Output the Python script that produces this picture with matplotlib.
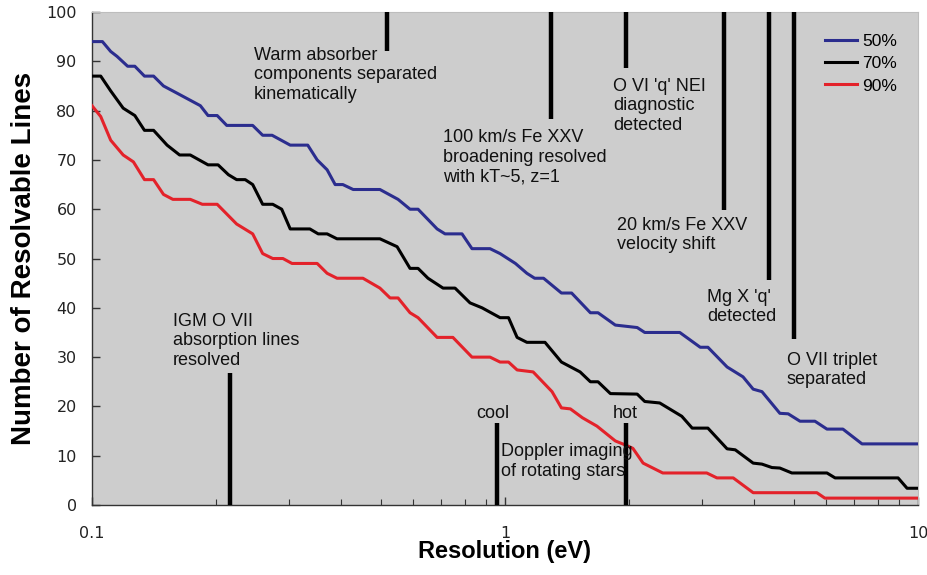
import matplotlib
matplotlib.use('Agg')
import matplotlib.pyplot as plt

# resolution (eV) vs number of resolvable lines
x_50 = [0.100, 0.106, 0.111, 0.115, 0.122, 0.127, 0.134, 0.141, 0.149, 0.161,
        0.183, 0.191, 0.201, 0.212, 0.245, 0.259, 0.273, 0.302, 0.333, 0.351,
        0.371, 0.388, 0.405, 0.429, 0.498, 0.551, 0.589, 0.616, 0.685, 0.716,
        0.787, 0.832, 0.920, 0.973, 1.06, 1.13, 1.18, 1.24, 1.37, 1.45,
        1.61, 1.68, 1.85, 2.09, 2.18, 2.65, 2.97, 3.10, 3.45, 3.77,
        3.99, 4.19, 4.63, 4.85, 5.18, 5.63, 6.02, 6.58, 7.32, 10.0]
y_50 = [94, 94, 92, 91, 89, 89, 87, 87, 85, 83.5,
        81, 79, 79, 77, 77, 75, 75, 73, 73, 70,
        68, 65, 65, 64, 64, 62, 60, 60, 56, 55,
        55, 52, 52, 51, 49, 47, 46, 46, 43, 43,
        39, 39, 36.5, 36, 35, 35, 32, 32, 28, 26,
        23.5, 23, 18.6, 18.5, 17, 17, 15.4, 15.4, 12.4, 12.4]

x_70 = [0.100, 0.105, 0.111, 0.119, 0.127, 0.134, 0.141, 0.152, 0.163, 0.173,
        0.191, 0.202, 0.214, 0.224, 0.235, 0.245, 0.259, 0.274, 0.288, 0.302,
        0.337, 0.353, 0.371, 0.392, 0.498, 0.548, 0.589, 0.616, 0.651, 0.708,
        0.757, 0.823, 0.880, 0.973, 1.02, 1.07, 1.13, 1.25, 1.37, 1.52,
        1.61, 1.68, 1.80, 2.09, 2.18, 2.37, 2.68, 2.84, 3.10, 3.45,
        3.61, 3.99, 4.19, 4.43, 4.63, 4.95, 6.02, 6.30, 8.95, 9.41, 10.0]
y_70 = [87, 87, 84, 80.5, 79, 76, 76, 73, 71, 71,
        69, 69, 67, 66, 66, 65, 61, 61, 60, 56,
        56, 55, 55, 54, 54, 52.4, 48, 48, 46, 44,
        44, 41, 40, 38, 38, 34, 33, 33, 29, 27,
        25, 25, 22.6, 22.5, 21, 20.7, 18, 15.6, 15.6, 11.4,
        11.2, 8.5, 8.3, 7.6, 7.5, 6.5, 6.5, 5.5, 5.5, 3.4, 3.4]

x_90 = [0.100, 0.105, 0.111, 0.119, 0.126, 0.134, 0.141, 0.149, 0.157, 0.173,
        0.185, 0.201, 0.224, 0.245, 0.259, 0.274, 0.290, 0.305, 0.351, 0.371,
        0.392, 0.453, 0.498, 0.527, 0.551, 0.589, 0.616, 0.685, 0.748, 0.832,
        0.920, 0.973, 1.02, 1.07, 1.17, 1.30, 1.37, 1.44, 1.54, 1.67,
        1.85, 1.98, 2.04, 2.16, 2.41, 3.08, 3.26, 3.57, 3.99, 5.69,
        5.95, 10.0]
y_90 = [81, 78.8, 74, 71, 69.6, 66, 66, 63, 62, 62,
        61, 61, 57, 55, 51, 50, 50, 49, 49, 47,
        46, 46, 44, 42, 42, 39, 38, 34, 34, 30,
        30, 29, 29, 27.4, 27, 23, 19.7, 19.5, 17.7, 16,
        13, 12, 11.5, 8.5, 6.5, 6.5, 5.5, 5.5, 2.5, 2.5,
        1.4, 1.4]

series_labels = ['50%', '70%', '90%']

# science goals: bar position (eV) and vertical extent
goal_x = [0.517, 1.29, 1.96, 3.39, 4.36, 5.01, 0.216, 0.954, 1.96]
goal_lo = [92, 78.4, 88.6, 59.8, 45.6, 33.7, 0, 0, 0]
goal_hi = [100, 100, 100, 100, 100, 100, 26.8, 16.6, 16.6]

notes = ["Warm absorber\ncomponents separated\nkinematically",
         "100 km/s Fe XXV\nbroadening resolved\nwith kT~5, z=1",
         "O VI 'q' NEI\ndiagnostic\ndetected",
         "20 km/s Fe XXV\nvelocity shift",
         "Mg X 'q'\ndetected",
         "O VII triplet\nseparated",
         "IGM O VII\nabsorption lines\nresolved",
         "Doppler imaging\nof rotating stars"]
note_x = [0.247, 0.708, 1.826, 1.867, 3.084, 4.818, 0.157, 0.978]
note_y = [93.0, 76.2, 86.7, 58.5, 43.9, 31.1, 39.0, 12.5]

xticks = [0.1, 1, 10]
xtick_labels = ['0.1', '1', '10']

BG = '#cdcdcd'
BLUE = '#2b2d8e'
RED = '#e3222a'
TXT = 'Liberation Sans'

fig = plt.figure(figsize=(9.28, 5.75), dpi=100)
ax = fig.add_axes([0.0991, 0.1217, 0.8901, 0.8574])
ax.set_facecolor(BG)

ax.plot(x_50, y_50, color=BLUE, lw=2.2, label=series_labels[0], zorder=3)
ax.plot(x_70, y_70, color='black', lw=2.2, label=series_labels[1], zorder=3)
ax.plot(x_90, y_90, color=RED, lw=2.2, label=series_labels[2], zorder=3)

ax.vlines(goal_x, goal_lo, goal_hi, colors='black', lw=3.2, zorder=4)

for s, x, y in zip(notes, note_x, note_y):
    ax.text(x, y, s, ha='left', va='top', fontsize=13, family=TXT,
            linespacing=1.2, color='#111111', zorder=5)
ax.text(0.933, 17.6, 'cool', ha='center', va='baseline', fontsize=13,
        family=TXT, color='#111111')
ax.text(1.96, 17.6, 'hot', ha='center', va='baseline', fontsize=13,
        family=TXT, color='#111111')

ax.set_xscale('log')
ax.set_xlim(0.1, 10)
ax.set_ylim(0, 100)
ax.set_xticks(xticks)
ax.set_xticklabels(xtick_labels)
ax.set_yticks(range(0, 101, 10))

ax.tick_params(axis='both', which='major', direction='in', length=6, width=1,
               labelsize=11.5, colors='#333333', labelcolor='#222222')
ax.tick_params(axis='x', which='major', pad=15)
ax.tick_params(axis='y', which='major', pad=11)
ax.tick_params(axis='x', which='minor', direction='in', length=4, width=0.8,
               colors='#333333')

for side in ['left', 'bottom']:
    ax.spines[side].set_color('#333333')
    ax.spines[side].set_linewidth(1.0)
for side in ['top', 'right']:
    ax.spines[side].set_color('#bdbdbd')
    ax.spines[side].set_linewidth(0.8)

ax.set_xlabel('Resolution (eV)', fontsize=17, fontweight='bold', family=TXT)
ax.set_ylabel('Number of Resolvable Lines', fontsize=20, fontweight='bold',
              family=TXT)
ax.xaxis.set_label_coords(0.5, -0.07)
ax.yaxis.set_label_coords(-0.066, 0.5)

leg = ax.legend(loc='upper right', bbox_to_anchor=(0.975, 0.955), frameon=False,
                prop={'family': TXT, 'size': 12.5}, handlelength=1.85,
                handletextpad=0.3, labelspacing=0.4, borderpad=0,
                borderaxespad=0)

fig.savefig('out.png', dpi=100)
